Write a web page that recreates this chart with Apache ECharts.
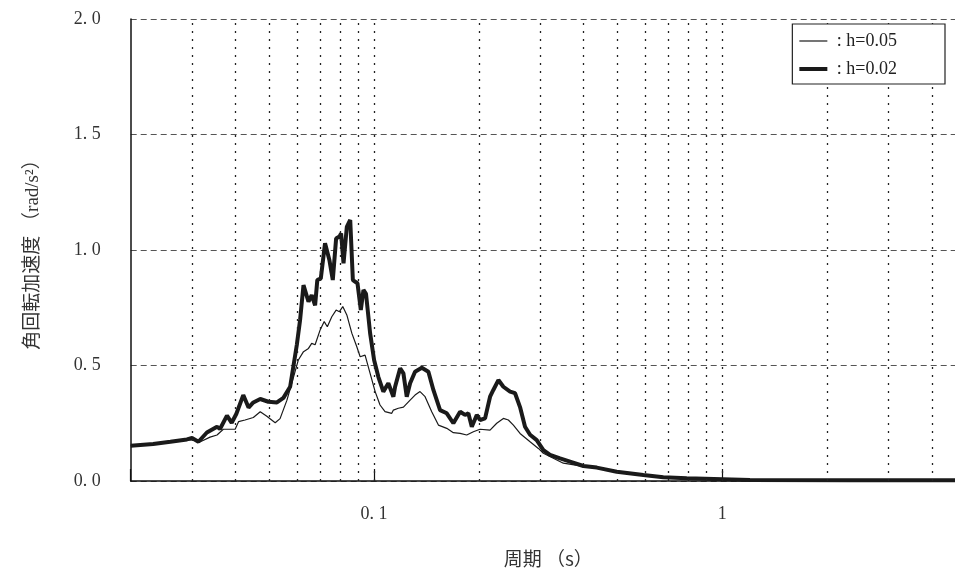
<!DOCTYPE html>
<html>
<head>
<meta charset="utf-8">
<script src="https://cdn.jsdelivr.net/npm/echarts@6/dist/echarts.min.js"></script>
<style>
html,body{margin:0;padding:0;background:#fff;}
#chart{width:955px;height:579px;}
</style>
</head>
<body>
<div id="chart"></div>
<script>
// Period (s) and angular acceleration (rad/s^2), h = 0.02 (thick)
const periods02 = [0.0200,0.0232,0.0260,0.0290,0.0300,0.0313,0.0331,0.0354,0.0361,0.0378,0.0390,0.0402,0.0421,0.0436,0.0450,0.0471,0.0497,0.0526,0.0549,0.0574,0.0587,0.0600,0.0613,0.0627,0.0648,0.0662,0.0677,0.0687,0.0703,0.0723,0.0744,0.0761,0.0778,0.0795,0.0804,0.0817,0.0835,0.0854,0.0869,0.0896,0.0916,0.0932,0.0948,0.0974,0.1000,0.1029,0.1063,0.1099,0.1136,0.1149,0.1188,0.1214,0.1241,0.1269,0.1311,0.1371,0.1432,0.1480,0.1547,0.1617,0.1689,0.1766,0.1825,0.1865,0.1908,0.1972,0.2015,0.2083,0.2153,0.2200,0.2275,0.2351,0.2458,0.2540,0.2625,0.2713,0.2805,0.2931,0.3063,0.3201,0.3420,0.3653,0.3990,0.4360,0.4976,0.5933,0.6769,0.7904,1.20,2.33,4.66];
const accel02 = [0.153,0.160,0.170,0.180,0.186,0.170,0.210,0.235,0.225,0.283,0.252,0.290,0.372,0.318,0.340,0.355,0.343,0.340,0.360,0.408,0.500,0.590,0.697,0.848,0.776,0.805,0.760,0.870,0.877,1.029,0.957,0.870,1.050,1.058,1.072,0.942,1.100,1.130,0.870,0.856,0.740,0.827,0.810,0.640,0.524,0.450,0.387,0.423,0.365,0.408,0.488,0.466,0.365,0.423,0.473,0.490,0.473,0.394,0.307,0.293,0.250,0.300,0.286,0.293,0.235,0.286,0.264,0.271,0.365,0.394,0.437,0.408,0.387,0.380,0.320,0.235,0.200,0.177,0.134,0.113,0.098,0.084,0.065,0.058,0.040,0.026,0.016,0.012,0.004,0.003,0.003];

// h = 0.05 (thin)
const periods05 = [0.0200,0.0232,0.0260,0.0290,0.0300,0.0317,0.0338,0.0354,0.0369,0.0399,0.0408,0.0426,0.0450,0.0471,0.0492,0.0520,0.0537,0.0562,0.0587,0.0606,0.0627,0.0648,0.0662,0.0677,0.0700,0.0719,0.0734,0.0756,0.0778,0.0795,0.0813,0.0835,0.0863,0.0892,0.0912,0.0942,0.0974,0.1007,0.1040,0.1075,0.1124,0.1136,0.1174,0.1214,0.1269,0.1311,0.1355,0.1401,0.1464,0.1530,0.1617,0.1689,0.1766,0.1845,0.1928,0.2015,0.2153,0.2250,0.2351,0.2430,0.2512,0.2625,0.2805,0.2963,0.3063,0.3495,0.3990,0.4360,0.4976,0.5933,0.6769,0.7904,1.20,2.33,4.66];
const accel05 = [0.153,0.160,0.170,0.178,0.178,0.170,0.190,0.199,0.224,0.224,0.257,0.264,0.275,0.300,0.280,0.252,0.270,0.350,0.450,0.524,0.560,0.574,0.596,0.590,0.654,0.690,0.668,0.711,0.740,0.733,0.755,0.719,0.640,0.581,0.538,0.545,0.466,0.387,0.329,0.300,0.293,0.307,0.315,0.320,0.350,0.372,0.387,0.365,0.300,0.242,0.228,0.209,0.206,0.199,0.213,0.224,0.220,0.250,0.271,0.264,0.242,0.206,0.170,0.141,0.120,0.077,0.063,0.056,0.039,0.025,0.015,0.011,0.004,0.003,0.003];

const seriesNames = [': h=0.05', ': h=0.02'];
const xGridValues = [0.03,0.04,0.05,0.06,0.07,0.08,0.09,0.1,0.2,0.3,0.4,0.5,0.6,0.7,0.8,0.9,1,2,3,4];
const xTickValues = [0.1, 1];
const xTickLabels = ['0. 1', '1'];
const yTickValues = [0, 0.5, 1, 1.5, 2];
const yTickLabels = ['0. 0', '0. 5', '1. 0', '1. 5', '2. 0'];

const serif = "'Liberation Serif', 'Noto Sans CJK JP', serif";
const chart = echarts.init(document.getElementById('chart'), null, {renderer: 'canvas'});

function pairs(xs, ys) { return xs.map((x, i) => [x, ys[i]]); }

const option = {
  animation: false,
  backgroundColor: '#fff',
  grid: {left: 130.7, width: 835, top: 19, height: 462, containLabel: false, outerBoundsMode: 'none'},
  legend: {
    data: [
      {name: seriesNames[0], icon: 'path://M0,0H28V1.2H0Z'},
      {name: seriesNames[1], icon: 'path://M0,0H28V4H0Z'}
    ],
    z: 20,
    orient: 'vertical',
    right: 10, top: 24,
    itemWidth: 28, itemHeight: 14, itemGap: 10,
    symbolKeepAspect: true,
    padding: [8, 48, 6, 7],
    backgroundColor: '#fff',
    borderColor: '#222', borderWidth: 1.2,
    formatter: name => ' ' + name,
    textStyle: {fontFamily: serif, fontSize: 18, color: '#222'}
  },
  xAxis: {
    type: 'log', logBase: 10, min: 0.02, max: 5,
    name: '周期 （s）', nameLocation: 'middle', nameGap: 68,
    nameTextStyle: {fontFamily: "'Noto Sans CJK JP', sans-serif", fontSize: 19, color: '#333'},
    axisLine: {show: true, lineStyle: {color: '#111', width: 1.5}},
    axisTick: {show: true, inside: true, length: 12, lineStyle: {color: '#111', width: 1.2}},
    axisLabel: {
      margin: 24, fontFamily: serif, fontSize: 18, color: '#333',
      formatter: v => { const i = xTickValues.findIndex(t => Math.abs(t - v) < 1e-9); return i >= 0 ? xTickLabels[i] : ''; }
    },
    splitLine: {show: false}
  },
  yAxis: {
    type: 'value', min: 0, max: 2, interval: 0.5,
    name: '角回転加速度 （rad/s²）', nameLocation: 'middle', nameGap: 88,
    nameTextStyle: {fontFamily: serif, fontSize: 19, color: '#333'},
    axisLine: {show: true, lineStyle: {color: '#111', width: 1.5}},
    axisTick: {show: false},
    axisLabel: {
      margin: 30, fontFamily: serif, fontSize: 18, color: '#333',
      formatter: v => { const i = yTickValues.findIndex(t => Math.abs(t - v) < 1e-9); return i >= 0 ? yTickLabels[i] : ''; }
    },
    splitLine: {show: true, lineStyle: {color: '#555', width: 1, type: [6, 4]}}
  },
  series: [
    {
      name: seriesNames[0], type: 'line', showSymbol: false, symbol: 'none', z: 3,
      data: pairs(periods05, accel05),
      lineStyle: {color: '#1a1a1a', width: 1.2},
      itemStyle: {color: '#1a1a1a'},
      markLine: {
        silent: true, symbol: 'none', label: {show: false},
        lineStyle: {color: '#222', width: 1.3, type: [2, 6]},
        data: xGridValues.map(v => ({xAxis: v}))
      }
    },
    {
      name: seriesNames[1], type: 'line', showSymbol: false, symbol: 'none', z: 4,
      data: pairs(periods02, accel02),
      lineStyle: {color: '#1a1a1a', width: 4},
      itemStyle: {color: '#1a1a1a'}
    }
  ]
};
chart.setOption(option);
</script>
</body>
</html>
